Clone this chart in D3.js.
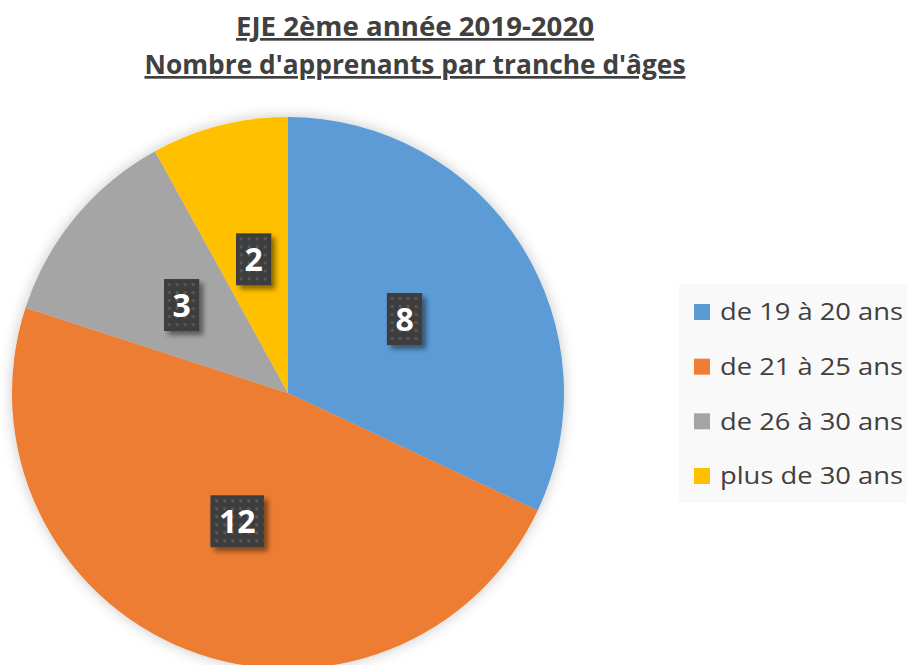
<!DOCTYPE html>
<html>
<head>
<meta charset="utf-8">
<script src="https://cdn.jsdelivr.net/npm/d3@7"></script>
<style>
  body { margin: 0; background: #fff; }
  svg { display: block; }
</style>
</head>
<body>
<svg id="chart"></svg>
<script>
// data
const categories = ['de 19 à 20 ans', 'de 21 à 25 ans', 'de 26 à 30 ans', 'plus de 30 ans']
const values = [8, 12, 3, 2]
const colors = ['#5B9BD5', '#ED7D31', '#A5A5A5', '#FFC000']
const titleLines = ['EJE 2ème année 2019-2020', "Nombre d'apprenants par tranche d'âges"]

const width = 907, height = 665
const font = "'Open Sans', sans-serif"
const textColor = '#404040'

const svg = d3.select('#chart')
  .attr('width', width)
  .attr('height', height)

const defs = svg.append('defs')

// soft glow round the pie
const glow = defs.append('filter').attr('id', 'glow')
  .attr('x', '-20%').attr('y', '-20%').attr('width', '140%').attr('height', '140%')
glow.append('feGaussianBlur').attr('in', 'SourceAlpha').attr('stdDeviation', 7).attr('result', 'b')
glow.append('feFlood').attr('flood-color', '#000').attr('flood-opacity', 0.22)
glow.append('feComposite').attr('in2', 'b').attr('operator', 'in').attr('result', 's')
const gm = glow.append('feMerge')
gm.append('feMergeNode').attr('in', 's')
gm.append('feMergeNode').attr('in', 'SourceGraphic')

// label box shadow
const bshadow = defs.append('filter').attr('id', 'bshadow')
  .attr('x', '-30%').attr('y', '-30%').attr('width', '170%').attr('height', '170%')
bshadow.append('feGaussianBlur').attr('in', 'SourceAlpha').attr('stdDeviation', 2.5)
bshadow.append('feOffset').attr('dx', 4).attr('dy', 4).attr('result', 'o')
bshadow.append('feFlood').attr('flood-color', '#000').attr('flood-opacity', 0.45)
bshadow.append('feComposite').attr('in2', 'o').attr('operator', 'in').attr('result', 's')
const bm = bshadow.append('feMerge')
bm.append('feMergeNode').attr('in', 's')
bm.append('feMergeNode').attr('in', 'SourceGraphic')

// dotted texture for the label boxes
const pat = defs.append('pattern').attr('id', 'dots')
  .attr('width', 8).attr('height', 8).attr('patternUnits', 'userSpaceOnUse')
pat.append('rect').attr('width', 8).attr('height', 8).attr('fill', '#3d3d3d')
pat.append('rect').attr('x', 2).attr('y', 2).attr('width', 3).attr('height', 3).attr('fill', '#575757')

// TITLE
const title = svg.append('g')
  .attr('font-family', font)
  .attr('font-weight', 'bold')
  .attr('font-size', 27)
  .attr('fill', textColor)
  .attr('text-anchor', 'middle')
title.selectAll('text')
  .data(titleLines)
  .enter()
  .append('text')
  .attr('x', 415)
  .attr('y', (d, i) => 36 + i * 38)
  .attr('text-decoration', 'underline')
  .attr('textLength', (d, i) => [358, 541][i])
  .attr('lengthAdjust', 'spacingAndGlyphs')
  .text(d => d)

// PIE
const cx = 288, cy = 393, r = 276
const pie = d3.pie().sort(null).value(d => d)
const arcs = pie(values)
const arc = d3.arc().innerRadius(0).outerRadius(r)

const g = svg.append('g').attr('transform', `translate(${cx},${cy})`)
g.append('g')
  .attr('filter', 'url(#glow)')
  .selectAll('path')
  .data(arcs)
  .enter()
  .append('path')
  .attr('d', arc)
  .attr('fill', (d, i) => colors[i])

// LABELS
const labels = g.selectAll('g.label')
  .data(arcs)
  .enter()
  .append('g')
  .attr('class', 'label')
  .attr('transform', d => `translate(${arc.centroid(d)})`)

labels.each(function (d) {
  const lg = d3.select(this)
  const rect = lg.append('rect').attr('fill', 'url(#dots)').attr('filter', 'url(#bshadow)')
  const t = lg.append('text')
    .attr('text-anchor', 'middle')
    .attr('dy', '0.36em')
    .attr('font-family', font)
    .attr('font-weight', 'bold')
    .attr('font-size', 32)
    .attr('fill', '#fff')
    .text(d.data)
  const w = t.node().getComputedTextLength() + 17
  rect.attr('x', -w / 2).attr('y', -26).attr('width', w).attr('height', 52)
})

// LEGEND
const legend = svg.append('g')
legend.append('rect')
  .attr('x', 679).attr('y', 284)
  .attr('width', width - 679).attr('height', 219)
  .attr('fill', '#f9f9f9')

const rowY = d3.scalePoint().domain(categories).range([312, 476])
const item = legend.selectAll('g.item')
  .data(categories)
  .enter()
  .append('g')
  .attr('class', 'item')
  .attr('transform', d => `translate(694,${rowY(d)})`)
item.append('rect')
  .attr('x', 0).attr('y', -8)
  .attr('width', 16).attr('height', 16)
  .attr('fill', (d, i) => colors[i])
item.append('text')
  .attr('x', 26)
  .attr('dy', '0.35em')
  .attr('font-family', font)
  .attr('font-size', 24)
  .attr('fill', textColor)
  .attr('textLength', 183)
  .attr('lengthAdjust', 'spacingAndGlyphs')
  .text(d => d)
</script>
</body>
</html>
